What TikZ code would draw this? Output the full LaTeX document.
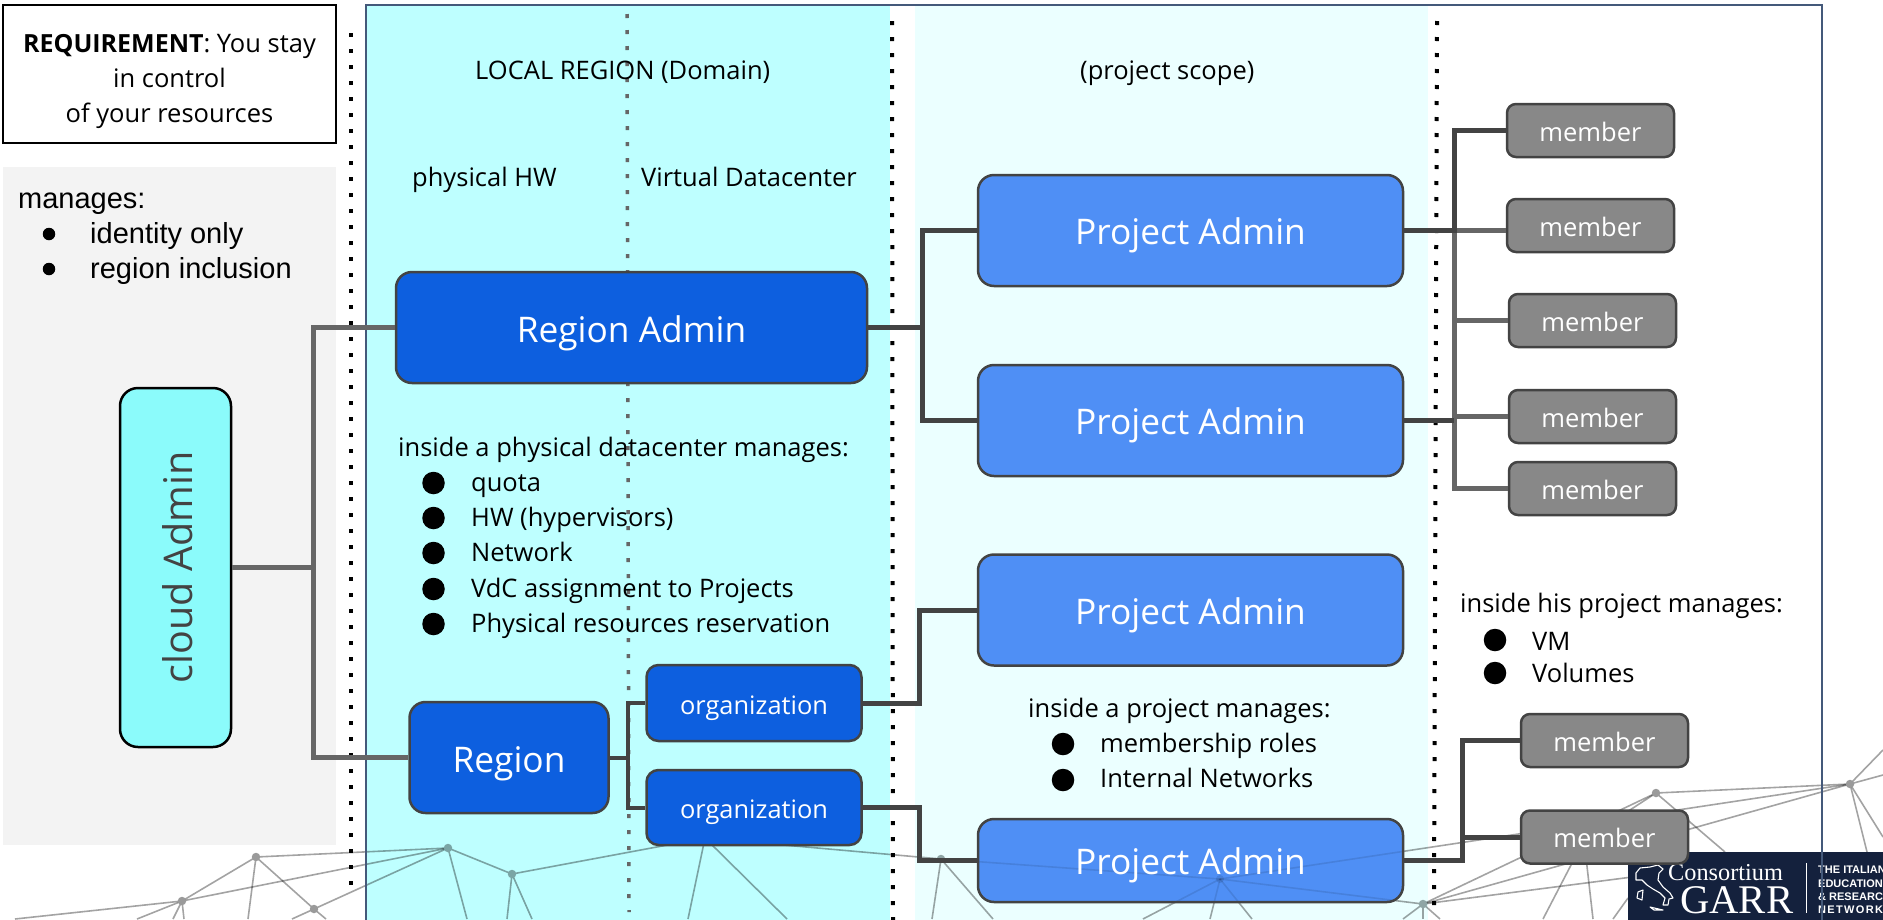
\documentclass[tikz,border=0pt]{standalone}
\usepackage{fontspec}
\setmainfont{Open Sans}
\newfontfamily\arialf{Liberation Sans}
\newfontfamily\timesf{Liberation Serif}
\newfontfamily\logospaced[LetterSpace=12]{Liberation Sans}
\definecolor{panelA}{HTML}{BEFFFF}
\definecolor{panelB}{HTML}{EBFFFF}
\definecolor{greyP}{HTML}{F3F3F3}
\definecolor{regblue}{HTML}{0D5FDF}
\definecolor{projblue}{HTML}{4F8FF5}
\definecolor{cloudc}{HTML}{8BFBFB}
\definecolor{memc}{HTML}{888888}
\definecolor{edgec}{HTML}{434343}
\definecolor{conng}{HTML}{666666}
\definecolor{framec}{HTML}{44597A}
\definecolor{logoc}{HTML}{14213D}
\definecolor{nodew}{HTML}{9A9A9A}
\definecolor{nodea}{HTML}{7AA5A5}
\definecolor{nodeb}{HTML}{8FA5A5}
\newcommand{\fs}[1]{\fontsize{#1}{#1}\selectfont}
\tikzset{
  box/.style={draw=edgec,line width=2.5pt,inner sep=0pt,align=center,text depth=0pt,text=white},
  bigbox/.style={box,font=\fs{35.3},text height=28pt,rounded corners=16pt},
  regbox/.style={bigbox,fill=regblue,text height=30pt},
  projbox/.style={bigbox,fill=projblue,minimum width=425pt},
  orgbox/.style={box,fill=regblue,font=\fs{25.4},text height=22pt,rounded corners=12pt,minimum width=215pt},
  membox/.style={box,fill=memc,font=\fs{25.5},text height=21pt,rounded corners=9pt,minimum width=167pt,minimum height=53pt},
  lbl/.style={inner sep=0pt,anchor=base west,font=\fs{25.5},text=black},
  lblc/.style={inner sep=0pt,anchor=base,font=\fs{25.5},text=black},
  arl/.style={inner sep=0pt,anchor=base west,font=\arialf\fs{29},text=black},
  bul/.style={circle,fill=black,inner sep=0pt,minimum size=22.5pt},
  bulsmall/.style={circle,fill=black,inner sep=0pt,minimum size=12.5pt},
  conn/.style={draw=edgec,line width=5pt},
  conngrey/.style={draw=conng,line width=5pt},
  dots/.style={draw=black,line width=4pt,dash pattern=on 4pt off 12pt},
  greydots/.style={draw=conng,line width=3.5pt,dash pattern=on 4pt off 12pt},
  net/.style={draw=black,draw opacity=.36,line width=1.6pt},
  netfaint/.style={draw=black,draw opacity=.1,line width=1.6pt},
  netnode/.style={circle,inner sep=0pt,minimum size=8.5pt},
  logotext/.style={inner sep=0pt,anchor=base west,text=white}
}
\begin{document}
\begin{tikzpicture}[x=1pt,y=-1pt]
\clip[use as bounding box] (0,0) rectangle (1883,919);
% panels
\fill[greyP] (3,167) rectangle (336,845);
\fill[panelA] (366,5) rectangle (890,925);
\fill[panelB] (915,5) rectangle (1428,925);
% background network
\foreach \n/\x/\y in {A/256/857,B/448/848,C/182/901,D/314/909,E/512/874,H/705/838,F/941/859,I/1220/879,J/1423/904,K/1656/793,M/1850/784,N/1584/840}
  \coordinate (\n) at (\x,\y);
\foreach \a/\b in {A/C,A/B,A/D,C/B,D/B,B/E,E/H,H/F,F/I,I/J,I/M,J/K,K/M,J/M,N/K}
  \draw[net] (\a) -- (\b);
\foreach \a/\x/\y in {C/15/919,C/137/919,C/173/919,C/184/919,A/248/919,D/292/919,D/326/919,B/467/919,E/507/919,E/532/919,H/688/919,H/787/919,F/932/919,F/993/919,I/1143/919,I/1210/919,I/1252/919,J/1403/919,J/1423/919,J/1440/919,J/1640/876,N/1543/919,N/1593/919,K/1725/852,M/1883/750,M/1883/775,M/1867/852,M/1883/837}
  \draw[net] (\a) -- (\x,\y);
\draw[net] (1628,898) -- (1613,919);
\foreach \n/\c in {A/nodew,C/nodew,D/nodew,K/nodew,M/nodew,B/nodea,E/nodea,F/nodeb,I/nodeb,J/nodeb} \node[netnode,fill=\c] at (\n) {};
% logo
\fill[logoc] (1628,852) rectangle (1890,925);
\draw[white,line width=1.1pt,line join=round] (1636,873) -- (1640,868) -- (1650,867) -- (1658,865) -- (1663,869) -- (1659,873) -- (1658,880) -- (1663,887) -- (1670,893) -- (1673,898) -- (1669,899) -- (1668,905) -- (1663,905) -- (1665,898) -- (1660,893) -- (1653,889) -- (1647,885) -- (1642,880) -- (1636,880) -- cycle;
\draw[white,line width=1.1pt,line join=round] (1638,892) -- (1643,890) -- (1642,900) -- (1637,898) -- cycle;
\draw[white,line width=1.1pt,line join=round] (1650,907) -- (1663,910) -- (1654,910) -- cycle;
\node[logotext,font=\timesf\fs{24.3}] (logoA) at (1668,880) {Consortium};
\node[logotext,font=\timesf\fs{40.7}] (logoB) at (1680,913) {GARR};
\draw[white,line width=.8pt] (1806,863) -- (1806,913);
\node[logotext,font=\arialf\bfseries\fs{11}] (logoC) at (1818,873) {THE ITALIAN};
\node[logotext,font=\arialf\bfseries\fs{11}] (logoD) at (1818,887) {EDUCATION};
\node[logotext,font=\arialf\bfseries\fs{11}] (logoE) at (1818,900) {\& RESEARCH};
\node[logotext,font=\logospaced\bfseries\fs{11}] (logoF) at (1818,913) {NETWORK};
% frame
\draw[framec,line width=2.5pt] (366,5) rectangle (1822,940);
% dotted separators
\draw[greydots] (627,14) -- (629,912);
\draw[dots] (351,33) -- (351,886);
\draw[dots] (892,21) -- (893,925);
\draw[dots] (1437,21) -- (1434,906);
% junction columns
\coordinate (t1) at (313,0);
\coordinate (t2) at (922,0);
\coordinate (t3) at (1454,0);
\coordinate (t4) at (628,0);
\coordinate (t5) at (919,0);
\coordinate (t6) at (1462,0);
% boxes
\node[draw=black,line width=2.5pt,fill=white,minimum width=333pt,minimum height=138pt,inner sep=0pt] (req) at (169.5,74) {};
\node[regbox,minimum width=471pt,minimum height=111pt] (ra) at (631.5,327.5) {Region Admin};
\node[box,fill=cloudc,draw=black,rounded corners=18pt,minimum width=111pt,minimum height=359pt] (cloud) at (175.5,567.5) {};
\node[regbox,minimum width=199pt,minimum height=111pt] (region) at (509,757.5) {Region};
\node[orgbox,minimum height=76pt] (org1) at (754,703) {organization};
\node[orgbox,minimum height=75pt] (org2) at (754,807.5) {organization};
\node[projbox,minimum height=111pt] (pa1) at (1190.5,230.5) {Project Admin};
\node[projbox,minimum height=111pt] (pa2) at (1190.5,420.5) {Project Admin};
\node[projbox,minimum height=111pt] (pa3) at (1190.5,610) {Project Admin};
\node[membox] (m1) at (1590.5,130.5) {member};
\node[membox] (m2) at (1590.5,225.5) {member};
\node[membox] (m3) at (1592.5,320.5) {member};
\node[membox] (m4) at (1592.5,416.5) {member};
\node[membox] (m5) at (1592.5,488.5) {member};
\node[membox] (m6) at (1604.5,740.5) {member};
\node[membox] (m7) at (1604.5,837) {member};
% Project Admin 4: fill, faint network lines showing through, then outline and text
\fill[projblue,rounded corners=16pt] (978,819) rectangle (1403,902);
\begin{scope}
\clip[rounded corners=16pt] (978,819) rectangle (1403,902);
\foreach \a/\b in {F/I,I/J,I/M} \draw[netfaint] (\a) -- (\b);
\foreach \x/\y in {1143/919,1210/919,1252/919} \draw[netfaint] (I) -- (\x,\y);
\fill[black,fill opacity=.1] (I) circle (4);
\end{scope}
\node[projbox,fill=none,minimum height=83pt] (pa4) at (1190.5,860.5) {Project Admin};
% connectors
\draw[conngrey] (cloud.east) -- (cloud.east -| t1) |- (ra.west);
\draw[conngrey] (cloud.east -| t1) |- (region.west);
\draw[conn] (ra.east) -- (ra.east -| t2) |- (pa1.west);
\draw[conn] (ra.east -| t2) |- (pa2.west);
\draw[conngrey] (pa1.east -| t3) -- (pa1.east -| m2.west);
\draw[conngrey] (pa1.east -| t3) |- (m3.west);
\draw[conngrey] (pa1.east -| t3) |- (m4.west);
\draw[conngrey] (pa1.east -| t3) |- (m5.west);
\draw[conn] (pa1.east) -- (pa1.east -| t3) |- (m1.west);
\draw[conn] (pa2.east) -- (pa2.east -| t3);
\draw[conn,line width=4pt] (region.east) -- (region.east -| t4) |- (org1.west);
\draw[conn,line width=4pt] (region.east -| t4) |- (org2.west);
\draw[conn] (org1.east) -- (org1.east -| t5) |- (pa3.west);
\draw[conn] (org2.east) -- (org2.east -| t5) |- (pa4.west);
\draw[conn] (pa4.east) -- (pa4.east -| t6) |- (m6.west);
\draw[conn] (pa4.east -| t6) |- (m7.west);
% texts
\node[inner sep=0pt,anchor=base,font=\fs{39.5},text=edgec,rotate=90,text height=0pt] (cloudtxt) at (192,567.5) {cloud Admin};
\node[lblc] (r1) at (169.5,52) {{\fontsize{25}{25}\selectfont\textbf{REQUIREMENT}}: You stay};
\node[lblc] (r2) at (169.5,87) {in control};
\node[lblc] (r3) at (169.5,122) {of your resources};
\node[arl] (g0) at (18,208) {manages:};
\node[bulsmall] (g1b) at (49,234) {};
\node[arl] (g1) at (90,243) {identity only};
\node[bulsmall] (g2b) at (49,269) {};
\node[arl] (g2) at (90,278) {region inclusion};
\node[lbl] (h1) at (475,79) {LOCAL REGION (Domain)};
\node[lbl] (h2) at (1080,79) {(project scope)};
\node[lbl] (h3) at (412,186) {physical HW};
\node[lbl] (h4) at (641,186) {Virtual Datacenter};
\node[lbl] (d0) at (398,456) {inside a physical datacenter manages:};
\foreach \i/\yb/\t in {1/491/quota,2/526/HW (hypervisors),3/561/Network,4/597/VdC assignment to Projects,5/632/Physical resources reservation}{
  \node[bul] (db\i) at (433.5,\yb-8) {};
  \node[lbl] (d\i) at (471,\yb) {\t};
}
\node[lbl] (p0) at (1028,717) {inside a project manages:};
\node[bul] (pb1) at (1063,744) {};
\node[lbl] (p1) at (1100,752) {membership roles};
\node[bul] (pb2) at (1063,780) {};
\node[lbl] (p2) at (1100,787) {Internal Networks};
\node[lbl] (q0) at (1460,612) {inside his project manages:};
\node[bul] (qb1) at (1495,640) {};
\node[lbl] (q1) at (1532,650) {VM};
\node[bul] (qb2) at (1495,673) {};
\node[lbl] (q2) at (1532,682) {Volumes};
\end{tikzpicture}
\end{document}
